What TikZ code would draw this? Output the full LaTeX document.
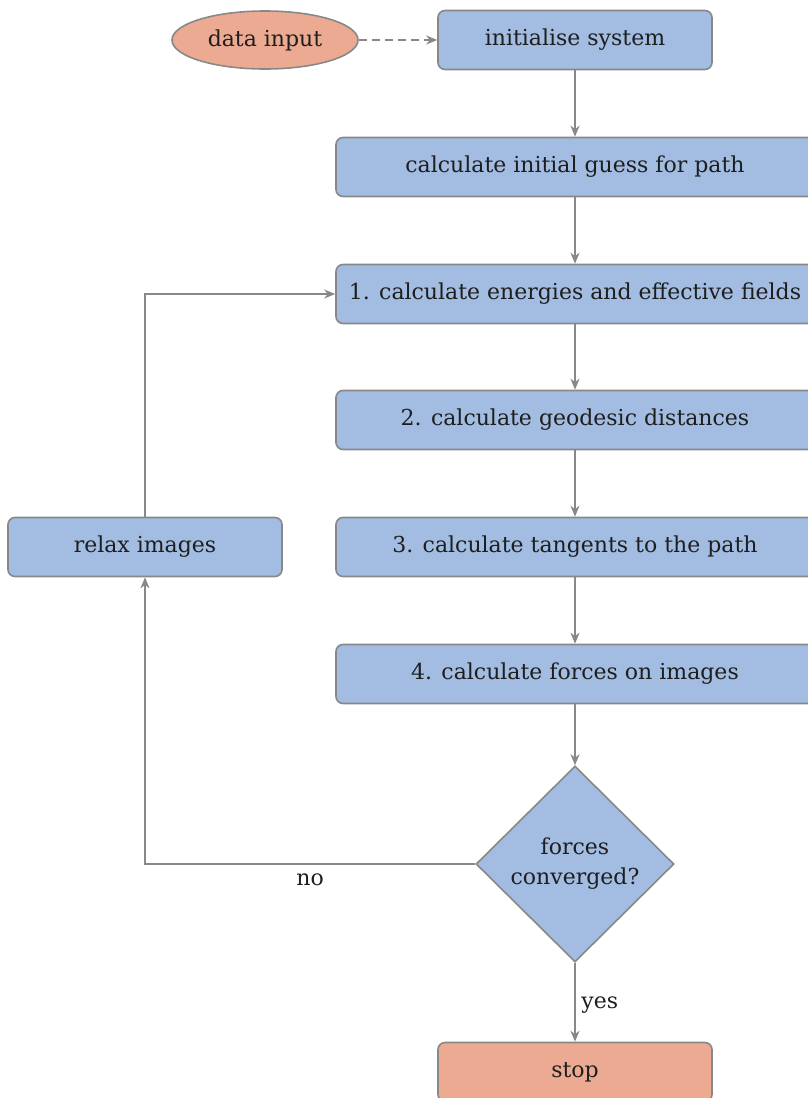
\documentclass[tikz,border=0pt]{standalone}
\usepackage{fontspec}
\setmainfont{DejaVu Serif}
\usetikzlibrary{shapes.geometric,arrows.meta}
\definecolor{linegray}{HTML}{888888}
\definecolor{boxblue}{HTML}{A2BDE1}
\definecolor{boxorange}{HTML}{EDAA92}
\definecolor{txt}{HTML}{1E1E1E}
\begin{document}
\begin{tikzpicture}[x=1pt,y=-1pt,
  basebox/.style={draw=linegray, line width=1.6pt, rounded corners=7pt, fill=boxblue,
    minimum height=59pt, inner sep=0pt, text=txt, font=\fontsize{22}{26}\selectfont},
  narrowbox/.style={basebox, minimum width=274pt},
  widebox/.style={basebox, minimum width=478pt},
  endbox/.style={narrowbox, fill=boxorange},
  startell/.style={ellipse, draw=linegray, line width=1.6pt, fill=boxorange, minimum width=186pt,
    minimum height=58pt, inner sep=0pt, text=txt, font=\fontsize{22}{26}\selectfont},
  decision/.style={diamond, aspect=1, draw=linegray, line width=1.6pt, fill=boxblue,
    minimum width=198pt, minimum height=196pt, inner sep=0pt, align=center, text=txt,
    font=\fontsize{22}{30}\selectfont},
  arr/.style={draw=linegray, line width=2.3pt, -{Stealth[length=11pt,width=9pt,inset=3.5pt]}},
  dasharr/.style={arr, dash pattern=on 8pt off 5pt},
  lbl/.style={text=txt, font=\fontsize{22}{26}\selectfont}
]
\useasboundingbox (0,0) rectangle (808,1098);
\clip (0,0) rectangle (808,1098);

\node[startell] (data) at (265,40) {data input};
\node[narrowbox] (init) at (575,40) {initialise system};
\node[widebox] (guess) at (575,167) {calculate initial guess for path};
\node[widebox] (s1) at (575,294) {1. calculate energies and effective fields};
\node[widebox] (s2) at (575,420) {2. calculate geodesic distances};
\node[widebox] (s3) at (575,547) {3. calculate tangents to the path};
\node[widebox] (s4) at (575,674) {4. calculate forces on images};
\node[decision] (conv) at (575,864) {forces\\converged?};
\node[endbox] (stop) at (575,1072) {stop};
\node[narrowbox] (relax) at (145,547) {relax images};

\draw[dasharr] (data) -- (init);
\draw[arr] (init) -- (guess);
\draw[arr] (guess) -- (s1);
\draw[arr] (s1) -- (s2);
\draw[arr] (s2) -- (s3);
\draw[arr] (s3) -- (s4);
\draw[arr] (s4) -- (conv);
\draw[arr] (conv) -- node[lbl, right, xshift=2pt, yshift=-3pt] {yes} (stop);
\draw[arr] (conv.west) -| node[lbl, below, pos=0.25, yshift=-5pt] {no} (relax.south);
\draw[arr] (relax.north) |- (s1.west);
\end{tikzpicture}
\end{document}
